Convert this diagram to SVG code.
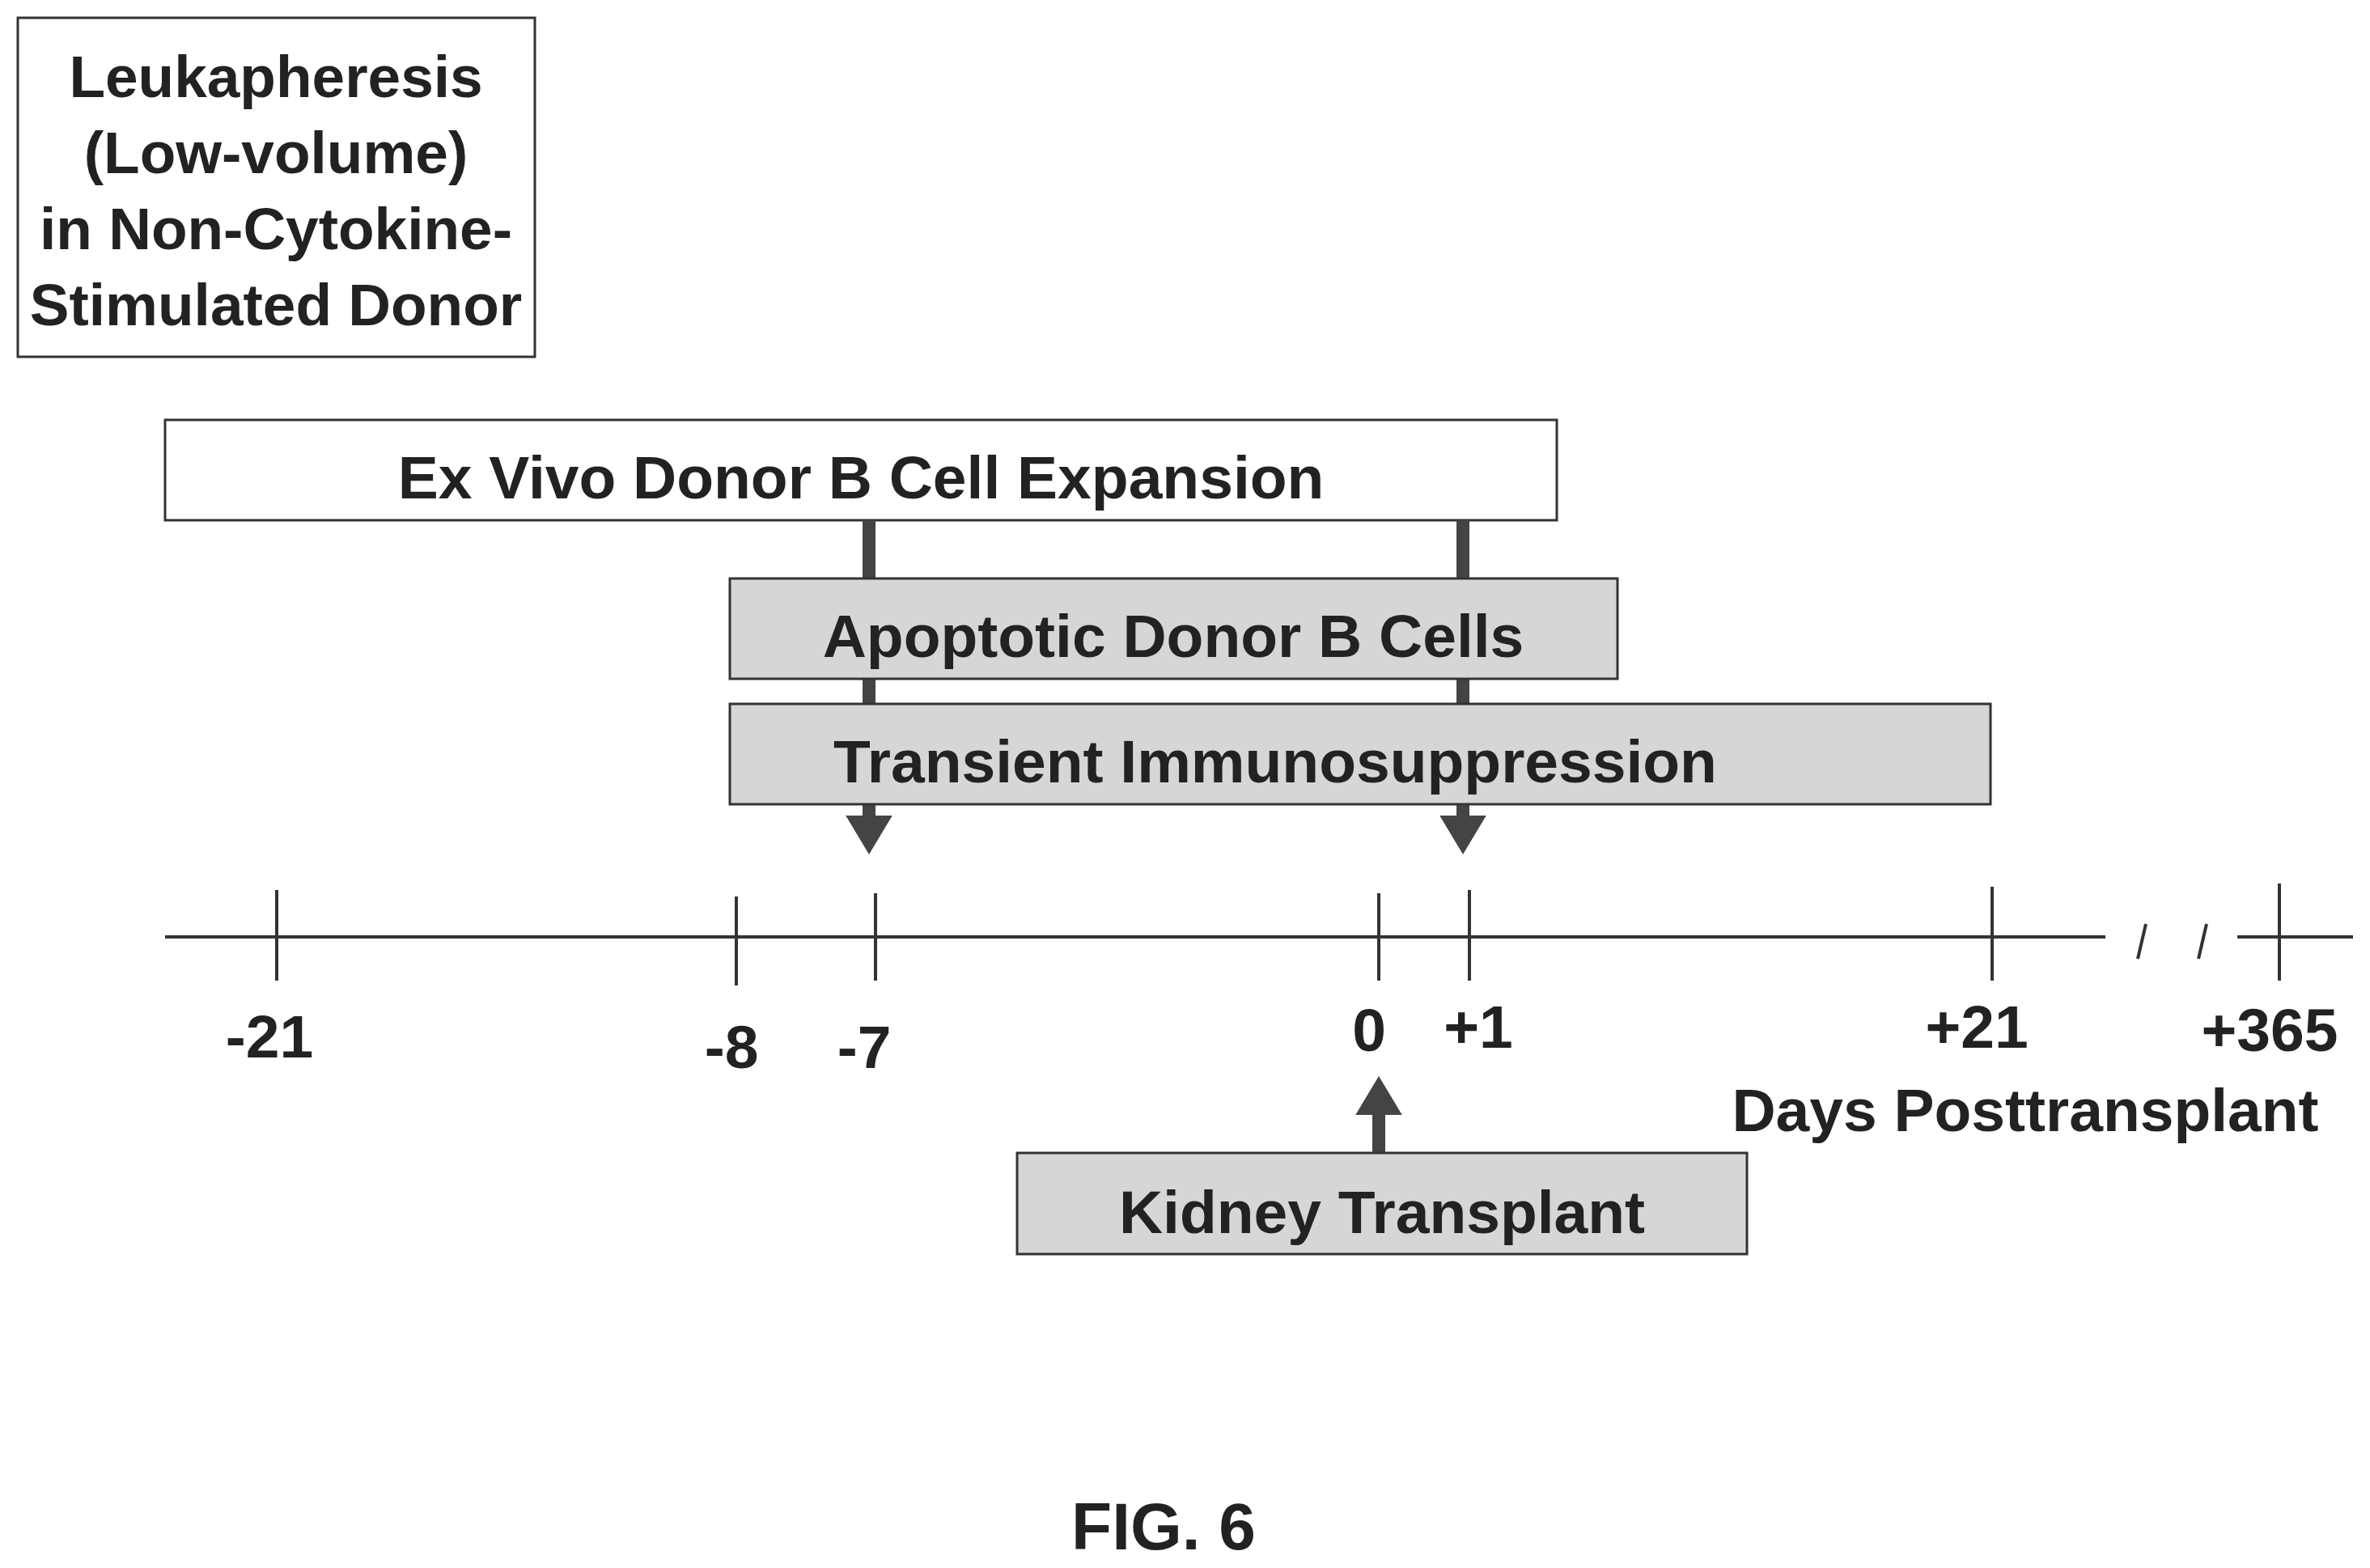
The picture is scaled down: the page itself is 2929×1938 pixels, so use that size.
<svg xmlns="http://www.w3.org/2000/svg" width="2929" height="1938" viewBox="0 0 2929 1938">
<defs>
<style>
text{font-family:"Liberation Sans",Arial,sans-serif;font-weight:bold;fill:#222;text-anchor:middle}
.b{stroke:#333;stroke-width:3}
.w{fill:#fff}
.g{fill:#d6d6d6}
.t{font-size:73px}
.n{font-size:75px}
.ln{stroke:#333;stroke-width:4;fill:none}
.bar{stroke:#444;stroke-width:16}
</style>
<marker id="ah" markerWidth="3" markerHeight="3.6" refX="0" refY="1.8" orient="auto" markerUnits="strokeWidth"><path d="M0,0L3,1.8L0,3.6z" fill="#444"/></marker>
</defs>
<rect width="2929" height="1938" fill="#fff"/>
<g id="leuk"><rect class="b w" x="22" y="22" width="639" height="419"/>
<text class="t" x="341" y="120">Leukapheresis</text><text class="t" x="341" y="214">(Low-volume)</text><text class="t" x="341" y="308">in Non-Cytokine-</text><text class="t" x="341" y="402">Stimulated Donor</text></g>
<g id="exvivo"><rect class="b w" x="204" y="519" width="1720" height="124"/><text class="n" x="1064" y="616">Ex Vivo Donor B Cell Expansion</text></g>
<g id="connectors">
<line class="bar" x1="1074" y1="643" x2="1074" y2="1008" marker-end="url(#ah)"/>
<line class="bar" x1="1808" y1="643" x2="1808" y2="1008" marker-end="url(#ah)"/>
<line class="bar" x1="1704" y1="1425" x2="1704" y2="1378" marker-end="url(#ah)"/>
</g>
<g id="apop"><rect class="b g" x="902" y="715" width="1097" height="124"/><text class="n" x="1450" y="812">Apoptotic Donor B Cells</text></g>
<g id="trans"><rect class="b g" x="902" y="870" width="1558" height="124"/><text class="n" x="1576" y="967">Transient Immunosuppression</text></g>
<g id="axis">
<line class="ln" x1="204" y1="1158" x2="2602" y2="1158"/><line class="ln" x1="2765" y1="1158" x2="2908" y2="1158"/>
<line class="ln" x1="2642" y1="1185" x2="2652" y2="1142"/><line class="ln" x1="2717" y1="1185" x2="2727" y2="1142"/>
<g class="ln"><line x1="342" y1="1100" x2="342" y2="1212"/><line x1="910" y1="1108" x2="910" y2="1218"/><line x1="1082" y1="1104" x2="1082" y2="1212"/><line x1="1704" y1="1104" x2="1704" y2="1212"/><line x1="1816" y1="1100" x2="1816" y2="1212"/><line x1="2462" y1="1096" x2="2462" y2="1212"/><line x1="2817" y1="1092" x2="2817" y2="1212"/></g>
<g class="n"><text x="333" y="1307">-21</text><text x="904" y="1320">-8</text><text x="1068" y="1320">-7</text><text x="1692" y="1299">0</text><text x="1827" y="1295">+1</text><text x="2443" y="1295">+21</text><text x="2805" y="1299">+365</text></g>
<text class="n" x="2503" y="1398">Days Posttransplant</text>
</g>
<g id="kidney"><rect class="b g" x="1257" y="1425" width="902" height="125"/><text class="n" x="1708" y="1524">Kidney Transplant</text></g>
<text x="1438" y="1915" style="font-size:82px">FIG. 6</text>
</svg>
